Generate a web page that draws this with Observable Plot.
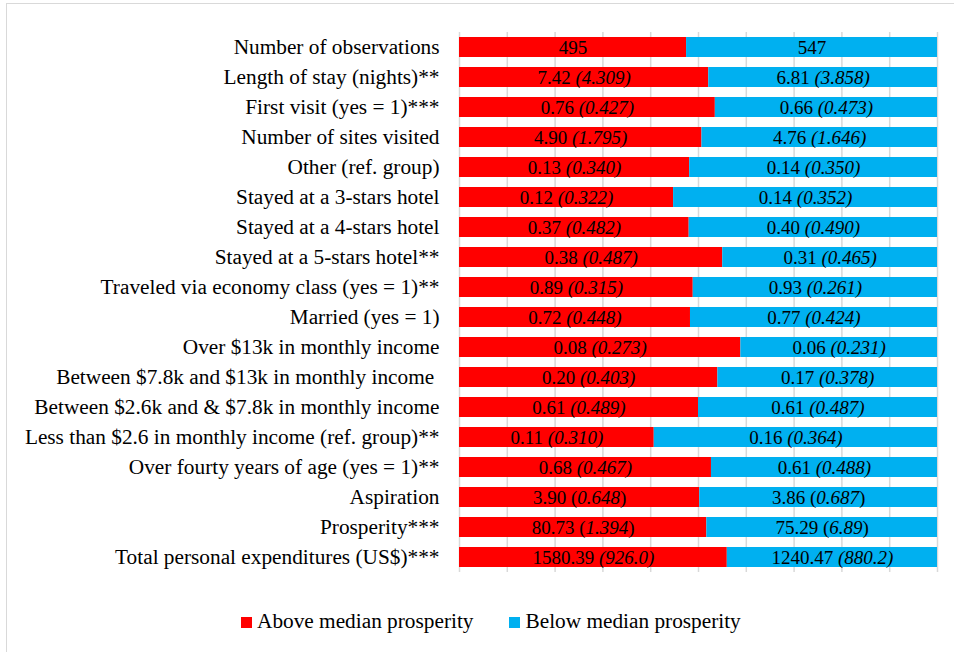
<!DOCTYPE html>
<html>
<head>
<meta charset="utf-8">
<script src="https://cdn.jsdelivr.net/npm/d3@7"></script>
<script src="https://cdn.jsdelivr.net/npm/@observablehq/plot@0.6"></script>
<style>
  html, body { margin: 0; padding: 0; background: #fff; overflow: hidden; }
  #wrap { position: relative; width: 954px; height: 652px; overflow: hidden; font-family: 'Liberation Serif', 'Times New Roman', serif; }
  #frame { position: absolute; left: 6px; top: 3px; width: 1000px; height: 700px; border: 1.5px solid #d9d9d9; pointer-events: none; }
  #chart svg { display: block; }
  #chart text { white-space: pre; }
  #legend { position: absolute; left: 0; top: 590px; height: 62px; display: flex; align-items: center; padding-left: 241px; gap: 36px; font-size: 21.3px; color: #000; }
  .item { display: flex; align-items: center; }
  .sw { width: 11px; height: 11px; margin-right: 5px; margin-top: 2px; }
</style>
</head>
<body>
<div id="wrap">
  <div id="chart"></div>
  <div id="legend"></div>
  <div id="frame"></div>
</div>
<script>
const labels = [
  "Number of observations",
  "Length of stay (nights)**",
  "First visit (yes = 1)***",
  "Number of sites visited",
  "Other (ref. group)",
  "Stayed at a 3-stars hotel",
  "Stayed at a 4-stars hotel",
  "Stayed at a 5-stars hotel**",
  "Traveled via economy class (yes = 1)**",
  "Married (yes = 1)",
  "Over $13k in monthly income",
  "Between $7.8k and $13k in monthly income ",
  "Between $2.6k and & $7.8k in monthly income",
  "Less than $2.6 in monthly income (ref. group)**",
  "Over fourty years of age (yes = 1)**",
  "Aspiration",
  "Prosperity***",
  "Total personal expenditures (US$)***"
];
const series = ["Above median prosperity", "Below median prosperity"];
const aboveMean = [495, 7.42, 0.76, 4.90, 0.13, 0.116, 0.37, 0.38, 0.89, 0.72, 0.083, 0.20, 0.61, 0.11, 0.68, 3.90, 80.73, 1580.39];
const aboveSD = ["", "4.309", "0.427", "1.795", "0.340", "0.322", "0.482", "0.487", "0.315", "0.448", "0.273", "0.403", "0.489", "0.310", "0.467", "0.648", "1.394", "926.0"];
const belowMean = [547, 6.81, 0.66, 4.76, 0.14, 0.143, 0.40, 0.31, 0.93, 0.77, 0.058, 0.17, 0.61, 0.16, 0.61, 3.86, 75.29, 1240.47];
const belowSD = ["", "3.858", "0.473", "1.646", "0.350", "0.352", "0.490", "0.465", "0.261", "0.424", "0.231", "0.378", "0.487", "0.364", "0.488", "0.687", "6.89", "880.2"];
const gridTicks = [0, 0.1, 0.2, 0.3, 0.4, 0.5, 0.6, 0.7, 0.8, 0.9, 1];
const uprightParenRows = ["Aspiration", "Prosperity***"];
const colors = ["#ff0000", "#00b0f0"];

const fmt = v => Number.isInteger(v) ? String(v) : v.toFixed(2);
const data = [];
labels.forEach((label, i) => {
  data.push({label, group: series[0], value: aboveMean[i], mean: fmt(aboveMean[i]), sd: aboveSD[i],
             text: fmt(aboveMean[i]) + (aboveSD[i] ? ` (${aboveSD[i]})` : "")});
  data.push({label, group: series[1], value: belowMean[i], mean: fmt(belowMean[i]), sd: belowSD[i],
             text: fmt(belowMean[i]) + (belowSD[i] ? ` (${belowSD[i]})` : "")});
});
const byText = new Map(data.filter(d => d.sd).map(d => [d.text, d]));

const chart = Plot.plot({
  width: 954,
  height: 590,
  marginLeft: 459,
  marginRight: 17,
  marginTop: 32,
  marginBottom: 18,
  style: {fontFamily: "'Liberation Serif', 'Times New Roman', serif", fontSize: "21.3px", color: "#000", background: "transparent"},
  x: {domain: [0, 1], axis: null},
  y: {domain: labels, paddingInner: 1/3, paddingOuter: 1/6, label: null},
  color: {domain: series, range: colors},
  marks: [
    Plot.ruleX(gridTicks, {stroke: "#d9d9d9", strokeWidth: 1.5}),
    Plot.barX(data, Plot.stackX({x: "value", y: "label", fill: "group", offset: "normalize"})),
    Plot.text(data, Plot.stackX({x: "value", y: "label", text: "text", offset: "normalize",
      fill: "#000", fontSize: 19})),
    Plot.axisY({tickSize: 0, tickPadding: 20, fontSize: 21.3, label: null})
  ]
});
document.getElementById("chart").appendChild(chart);

// mixed upright / italic styling of "mean (sd)" labels
const ns = "http://www.w3.org/2000/svg";
chart.querySelectorAll("text").forEach(t => {
  const d = byText.get(t.textContent);
  if (!d) return;
  const upright = uprightParenRows.includes(d.label);
  while (t.firstChild) t.removeChild(t.firstChild);
  const add = (s, italic) => {
    const ts = document.createElementNS(ns, "tspan");
    if (italic) { ts.setAttribute("font-style", "italic"); ts.style.fontStyle = "italic"; }
    ts.textContent = s;
    t.appendChild(ts);
  };
  add(d.mean + " ", false);
  if (upright) { add("(", false); add(d.sd, true); add(")", false); }
  else add("(" + d.sd + ")", true);
});

// legend
const legend = document.getElementById("legend");
series.forEach((s, i) => {
  const it = document.createElement("div");
  it.className = "item";
  const sw = document.createElement("span");
  sw.className = "sw";
  sw.style.background = colors[i];
  const tx = document.createElement("span");
  tx.textContent = s;
  it.appendChild(sw); it.appendChild(tx);
  legend.appendChild(it);
});
</script>
</body>
</html>
